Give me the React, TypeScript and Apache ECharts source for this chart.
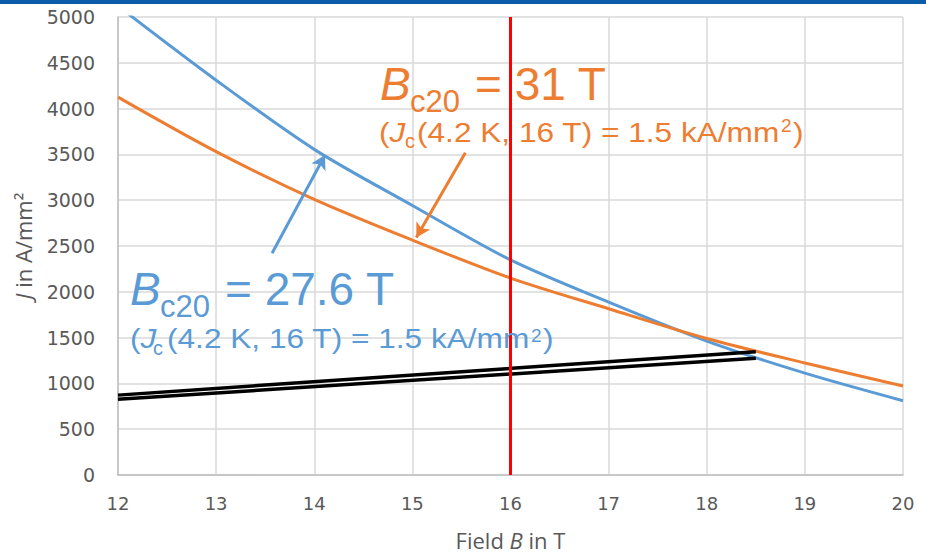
import React, { useEffect, useRef } from "react";
import * as echarts from "echarts";

const fields = [12, 13, 14, 15, 16, 17, 18, 19, 20];
const jcBlue276 = [5120, 4310, 3555, 2942, 2348, 1887, 1462, 1112, 811];
const jcOrange31 = [4125, 3530, 3010, 2565, 2150, 1815, 1490, 1223, 972];
const loadUpper = [[12, 872], [18.5, 1346]];
const loadLower = [[12, 827], [18.5, 1274]];
const markerField = 16;
const blueArrow = [[13.57, 2420], [14.11, 3493]];
const orangeArrow = [[15.54, 3517], [15.04, 2593]];
const xMin = 12, xMax = 20, xStep = 1;
const yMin = 0, yMax = 5000, yStep = 500;

const BLUE = "#5b9bd5";
const ORANGE = "#ed7d31";
const AXIS_FONT = "'DejaVu Sans', 'Open Sans', sans-serif";
const NAME_FONT = "'Open Sans', 'Noto Sans', sans-serif";
const ANN_FONT = "'Liberation Sans', Arial, sans-serif";

function annText(x: number, y: number, text: string, size: number, color: string, italic = false, sx = 1) {
  return {
    type: "text",
    x,
    y,
    scaleX: sx,
    silent: true,
    z: 50,
    style: {
      text,
      fontSize: size,
      fontFamily: ANN_FONT,
      fontStyle: italic ? "italic" : "normal",
      fill: color,
      align: "left",
      verticalAlign: "middle",
    },
  };
}

function annotation(color: string, x0: number, big: string, cBig: number, cSub: number,
  x2: number[], c2: number, cS: number, cSup: number) {
  const s = 1.11;
  const f2 = 28.5;
  return [
    annText(x0, cBig, "B", 46, color, true),
    annText(x0 + 30, cSub, "c20", 31, color),
    annText(x0 + 95, cBig, big, 46, color),
    annText(x2[0], c2, "(", f2, color, false, s),
    annText(x2[0] + 10.6, c2, "J", f2, color, true, s),
    annText(x2[1], cS, "c", 20, color),
    annText(x2[2], c2, "(4.2 K, 16 T) = 1.5 kA/mm", f2, color, false, s),
    annText(x2[3], cSup, "2", 19, color),
    annText(x2[4], c2, ")", f2, color, false, s),
  ];
}

export default function App() {
  const ref = useRef<HTMLDivElement>(null);
  useEffect(() => {
    if (!ref.current) return;
    const chart = echarts.init(ref.current, null, { renderer: "svg" });
    const arrowLine = (pts: number[][], color: string) => ({
      silent: true,
      symbol: ["none", "arrow"],
      symbolSize: [12, 14],
      label: { show: false },
      emphasis: { disabled: true },
      lineStyle: { color, width: 3, type: "solid" },
      data: [[{ coord: pts[0] }, { coord: pts[1] }]],
    });
    const nameRich = {
      n: { fontFamily: NAME_FONT, fontSize: 22, color: "#595959" },
      i: { fontFamily: NAME_FONT, fontSize: 22, color: "#595959", fontStyle: "italic" },
    };
    chart.setOption({
      animation: false,
      backgroundColor: "#ffffff",
      grid: { left: 118, right: 23, top: 17, bottom: 81, containLabel: false },
      xAxis: {
        type: "value",
        min: xMin,
        max: xMax,
        interval: xStep,
        name: "{n|Field }{i|B}{n| in T}",
        nameLocation: "middle",
        nameGap: 54,
        nameTextStyle: { rich: nameRich },
        axisLine: { show: true, lineStyle: { color: "#bfbfbf", width: 1.5 } },
        axisTick: { show: false },
        axisLabel: { fontFamily: AXIS_FONT, fontSize: 18, color: "#595959", margin: 19 },
        splitLine: { show: true, lineStyle: { color: "#d9d9d9", width: 1.5 } },
      },
      yAxis: {
        type: "value",
        min: yMin,
        max: yMax,
        interval: yStep,
        name: "{i|J}{n| in A/mm²}",
        nameLocation: "middle",
        nameGap: 84,
        nameTextStyle: { rich: nameRich },
        axisLine: { show: true, lineStyle: { color: "#bfbfbf", width: 1.5 } },
        axisTick: { show: false },
        axisLabel: {
          fontFamily: AXIS_FONT,
          fontSize: 19,
          color: "#595959",
          margin: 23,
          formatter: (v: number) => String(v),
        },
        splitLine: { show: true, lineStyle: { color: "#d9d9d9", width: 1.5 } },
      },
      series: [
        {
          type: "line",
          name: "Bc20 = 27.6 T",
          data: fields.map((f, i) => [f, jcBlue276[i]]),
          smooth: 0.3,
          showSymbol: false,
          clip: true,
          lineStyle: { color: BLUE, width: 3 },
          itemStyle: { color: BLUE },
          z: 3,
          markLine: arrowLine(blueArrow, BLUE),
        },
        {
          type: "line",
          name: "Bc20 = 31 T",
          data: fields.map((f, i) => [f, jcOrange31[i]]),
          smooth: 0.3,
          showSymbol: false,
          clip: true,
          lineStyle: { color: ORANGE, width: 3 },
          itemStyle: { color: ORANGE },
          z: 4,
          markLine: arrowLine(orangeArrow, ORANGE),
        },
        {
          type: "line",
          name: "load upper",
          data: loadUpper,
          showSymbol: false,
          lineStyle: { color: "#000000", width: 3.5 },
          itemStyle: { color: "#000000" },
          z: 5,
        },
        {
          type: "line",
          name: "load lower",
          data: loadLower,
          showSymbol: false,
          lineStyle: { color: "#000000", width: 3.5 },
          itemStyle: { color: "#000000" },
          z: 5,
          markLine: {
            silent: true,
            symbol: ["none", "none"],
            label: { show: false },
            emphasis: { disabled: true },
            lineStyle: { color: "#ff0000", width: 3, type: "solid" },
            data: [{ xAxis: markerField }],
            z: 6,
          },
        },
      ],
      graphic: [
        {
          type: "rect",
          left: 0,
          top: 0,
          shape: { width: 926, height: 4 },
          style: { fill: "#0b5ca9" },
          silent: true,
        },
        ...annotation(ORANGE, 380, "= 31 T", 84, 101, [379, 405, 417, 781, 793], 132, 141, 125.5),
        ...annotation(BLUE, 130, "= 27.6 T", 289, 306, [130, 153, 167, 531, 543], 338, 348, 335),
      ],
    });
    return () => chart.dispose();
  }, []);
  return (
    <div
      ref={ref}
      style={{ position: "fixed", left: 0, top: 0, width: 926, height: 556, background: "#fff" }}
    />
  );
}
